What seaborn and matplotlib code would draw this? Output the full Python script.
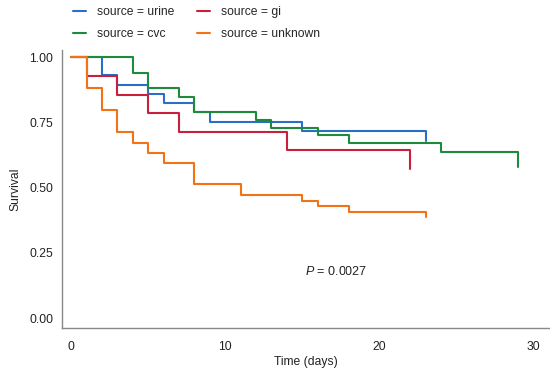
import matplotlib
matplotlib.use("Agg")
import matplotlib.pyplot as plt
import seaborn as sns
import pandas as pd

# ---- data ----
urine_time = [0, 2, 3, 5, 6, 8, 9, 15, 23]
urine_surv = [1.0, 0.932, 0.894, 0.858, 0.824, 0.789, 0.751, 0.716, 0.679]

gi_time = [0, 1, 3, 5, 7, 14, 22]
gi_surv = [1.0, 0.929, 0.857, 0.786, 0.714, 0.643, 0.571]

cvc_time = [0, 4, 5, 7, 8, 12, 13, 16, 18, 24, 29]
cvc_surv = [1.0, 0.941, 0.881, 0.849, 0.789, 0.760, 0.730, 0.702, 0.670, 0.638, 0.580]

unknown_time = [0, 1, 2, 3, 4, 5, 6, 8, 11, 15, 16, 18, 23]
unknown_surv = [1.0, 0.881, 0.798, 0.715, 0.673, 0.634, 0.593, 0.513, 0.473,
                0.450, 0.431, 0.408, 0.389]

groups = ["urine", "gi", "cvc", "unknown"]
legend_order = ["urine", "cvc", "gi", "unknown"]
colors = {"urine": "#2a6ec6", "gi": "#c8203c", "cvc": "#1f8a3b", "unknown": "#f47216"}
x_ticks = [0, 10, 20, 30]
y_ticks = [0.00, 0.25, 0.50, 0.75, 1.00]
p_text = "$P$ = 0.0027"

frames = []
for name, t, s in [("urine", urine_time, urine_surv), ("gi", gi_time, gi_surv),
                   ("cvc", cvc_time, cvc_surv), ("unknown", unknown_time, unknown_surv)]:
    frames.append(pd.DataFrame({"time": t, "survival": s, "source": name}))
df = pd.concat(frames, ignore_index=True)

sns.set_style("white")
plt.rcParams["font.family"] = ["Liberation Sans", "DejaVu Sans"]
plt.rcParams["mathtext.fontset"] = "custom"
plt.rcParams["mathtext.it"] = "Liberation Sans:italic"
plt.rcParams["mathtext.rm"] = "Liberation Sans"

fs = 8.7
fig = plt.figure(figsize=(5.5, 3.77), dpi=100)
ax = fig.add_axes([62.3 / 550, (377 - 328) / 377, 1 - 62.3 / 550, (328 - 50) / 377])

sns.lineplot(data=df, x="time", y="survival", hue="source", hue_order=groups,
             palette=colors, estimator=None, sort=False, drawstyle="steps-post",
             linewidth=1.5, ax=ax, legend=True)

ax.set_xlim(-0.58, 31.08)
ax.set_ylim(-0.038, 1.028)
ax.set_xticks(x_ticks)
ax.set_yticks(y_ticks)
ax.set_yticklabels([f"{v:.2f}" for v in y_ticks])
ax.tick_params(axis="both", length=0, labelsize=fs, colors="#222222")
ax.tick_params(axis="x", pad=9.5)
ax.tick_params(axis="y", pad=6.5)
ax.set_xlabel("Time (days)", fontsize=fs, color="#222222", labelpad=2)
ax.set_ylabel("Survival", fontsize=fs, color="#222222", labelpad=6)

for side in ["top", "right"]:
    ax.spines[side].set_visible(False)
for side in ["left", "bottom"]:
    ax.spines[side].set_color("#888888")
    ax.spines[side].set_linewidth(1.0)

ax.text(15.18, 0.178, p_text, fontsize=9, va="center", ha="left", color="#222222")

handles, labels = ax.get_legend_handles_labels()
hmap = dict(zip(labels, handles))
leg = ax.legend([hmap[g] for g in legend_order], [f"source = {g}" for g in legend_order],
                ncol=2, loc="upper left", bbox_to_anchor=(0.133, 0.984),
                bbox_transform=fig.transFigure, frameon=False, fontsize=fs,
                handlelength=1.1, handletextpad=0.85, columnspacing=1.9,
                labelspacing=0.85, borderaxespad=0, borderpad=0)

fig.savefig("out.png", dpi=100)
